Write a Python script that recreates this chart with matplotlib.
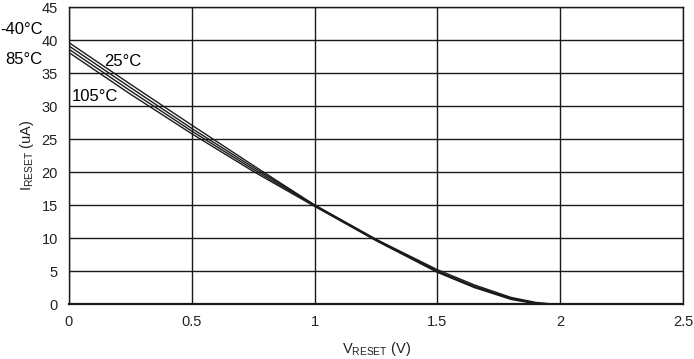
import matplotlib.pyplot as plt

plt.rcParams['font.family'] = ['Liberation Sans', 'DejaVu Sans']

# V_RESET (V) sample points and I_RESET (uA) per temperature
v_reset = [0, 0.25, 0.5, 0.75, 1.0, 1.25, 1.5, 1.65, 1.8, 1.9, 1.97]
i_m40 = [39.6, 33.3, 27.1, 21.0, 15.0, 9.8, 5.2, 2.9, 1.0, 0.25, 0.0]
i_25 = [39.1, 32.8, 26.6, 20.7, 15.0, 9.8, 5.0, 2.7, 0.9, 0.15, 0.0]
i_85 = [38.6, 32.3, 26.2, 20.4, 14.9, 9.7, 4.9, 2.6, 0.8, 0.1, 0.0]
i_105 = [38.1, 31.8, 25.8, 20.1, 14.8, 9.6, 4.8, 2.5, 0.7, 0.05, 0.0]

curves = [i_m40, i_25, i_85, i_105]

fig = plt.figure(figsize=(6.94, 3.59), dpi=100)
ax = fig.add_axes([0.0994, 0.153, 0.885, 0.8275])

for c in curves:
    ax.plot(v_reset, c, color='#1a1a1a', lw=1.0)

ax.set_xlim(0, 2.5)
ax.set_ylim(0, 45)
ax.set_xticks([0, 0.5, 1, 1.5, 2, 2.5])
ax.set_xticklabels(['0', '0.5', '1', '1.5', '2', '2.5'])
ax.set_yticks(range(0, 50, 5))
ax.grid(True, color='#1a1a1a', lw=1.0)
ax.tick_params(length=0, labelsize=10.5, colors='#222222', pad=8)
for s in ax.spines.values():
    s.set_color('#1a1a1a')
    s.set_linewidth(1.0)
ax.spines['bottom'].set_linewidth(1.6)

ax.set_xlabel(r'V$_{\mathregular{RESET}}$ (V)', fontsize=10.5, color='#222222', labelpad=8)
ax.set_ylabel(r'I$_{\mathregular{RESET}}$ (uA)', fontsize=10.5, color='#222222', labelpad=4)

fig.text(0.0, 0.919, '-40°C', fontsize=12, ha='left', va='center')
fig.text(0.007, 0.833, '85°C', fontsize=12, ha='left', va='center')
ax.text(0.22, 36.8, '25°C', fontsize=12, ha='center', va='center')
ax.text(0.105, 31.4, '105°C', fontsize=12, ha='center', va='center')

fig.savefig('out.png', dpi=100)
